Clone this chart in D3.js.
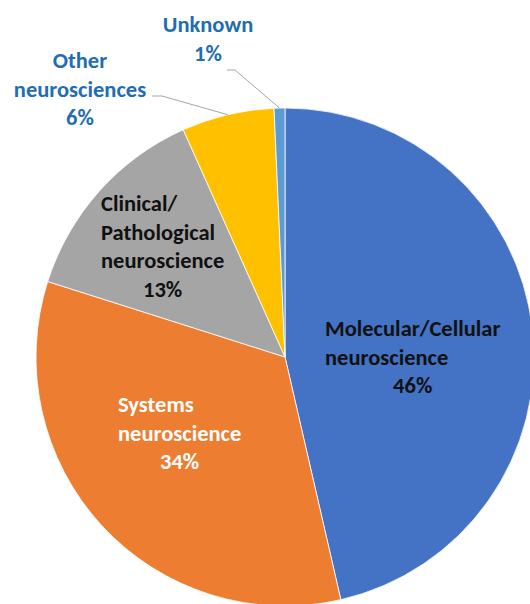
<!DOCTYPE html>
<html>
<head>
<meta charset="utf-8">
<script src="https://cdn.jsdelivr.net/npm/d3@7"></script>
<style>
  html, body { margin: 0; padding: 0; background: #fff; }
  svg { display: block; }
</style>
</head>
<body>
<div id="chart"></div>
<script>
// Chart data
const categories = ["Molecular/Cellular neuroscience", "Systems neuroscience", "Clinical/Pathological neuroscience", "Other neurosciences", "Unknown"];
const shares = [46.4, 33.5, 13.4, 6.0, 0.7];
const labelLines = [
  ["Molecular/Cellular", "neuroscience"],
  ["Systems", "neuroscience"],
  ["Clinical/", "Pathological", "neuroscience"],
  ["Other", "neurosciences"],
  ["Unknown"]
];
const colors = ["#4472C4", "#ED7D31", "#A5A5A5", "#FFC000", "#5B9BD5"];

const width = 530, height = 604;
const cx = 285, cy = 357, radius = 249;
const lineH = 28.5;

// where each label block goes (x, first baseline), inside or outside the pie
const labelLayout = [
  { x: 325, y: 336, align: "left", fill: "#111", outside: false },
  { x: 118, y: 412, align: "left", fill: "#fff", outside: false },
  { x: 101, y: 211, align: "left", fill: "#111", outside: false },
  { x: 80, y: 68, align: "center", fill: "#1f6db3", outside: true, from: [[152, 96], [162, 96]] },
  { x: 208, y: 32, align: "center", fill: "#1f6db3", outside: true, from: [[227, 70], [235, 70]] }
];

const svg = d3.select("#chart")
  .append("svg")
  .attr("width", width)
  .attr("height", height);

const g = svg.append("g").attr("transform", `translate(${cx},${cy})`);

const pie = d3.pie().sort(null).value(d => d);
const arcs = pie(shares);

const arc = d3.arc().innerRadius(0).outerRadius(radius);
const edgeArc = d3.arc().innerRadius(radius).outerRadius(radius);

g.selectAll("path.slice")
  .data(arcs)
  .join("path")
  .attr("class", "slice")
  .attr("d", arc)
  .attr("fill", (d, i) => colors[i])
  .attr("stroke", "#fff")
  .attr("stroke-width", 0.8);

// leader lines for the small slices
arcs.forEach(function (d, i) {
  const lay = labelLayout[i];
  if (!lay.outside) return;
  const end = edgeArc.centroid(d);
  const pts = lay.from.map(p => [p[0], p[1]]).concat([[end[0] + cx, end[1] + cy]]);
  svg.append("path")
    .attr("d", d3.line()(pts))
    .attr("fill", "none")
    .attr("stroke", "#a6a6a6")
    .attr("stroke-width", 1);
});

const fontFamily = "Carlito, Lato, 'Open Sans', sans-serif";
const fontSize = 22.5;

arcs.forEach(function (d, i) {
  const lay = labelLayout[i];
  const lines = labelLines[i].concat([Math.round(shares[i]) + "%"]);
  const tg = svg.append("g")
    .style("font-family", fontFamily)
    .style("font-weight", "bold")
    .style("font-size", fontSize + "px")
    .attr("fill", lay.fill);

  const texts = tg.selectAll("text")
    .data(lines)
    .join("text")
    .attr("y", (t, k) => lay.y + k * lineH)
    .text(t => t);

  if (lay.align === "center") {
    texts.attr("x", lay.x).attr("text-anchor", "middle");
  } else {
    // left aligned block, percentage centred on the widest line
    let widest = 0;
    texts.each(function () { widest = Math.max(widest, this.getComputedTextLength()); });
    texts.attr("x", (t, k) => k === lines.length - 1 ? lay.x + widest / 2 : lay.x)
      .attr("text-anchor", (t, k) => k === lines.length - 1 ? "middle" : "start");
  }
});
</script>
</body>
</html>
